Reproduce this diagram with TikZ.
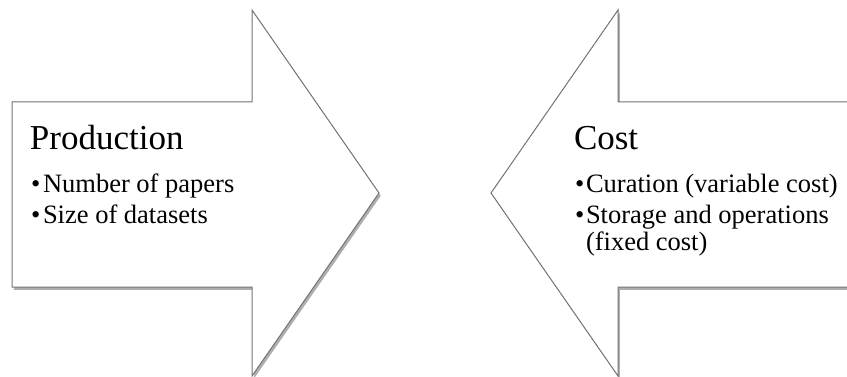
\documentclass[tikz,border=0pt]{standalone}
\usepackage{fontspec}
\setmainfont{Liberation Serif}
\usetikzlibrary{shadows}

\begin{document}
\begin{tikzpicture}[x=1pt, y=1pt,
  every node/.style={inner sep=0pt, outer sep=0pt},
  bigarrow/.style={draw=black!55, line width=1pt, fill=white, line join=miter,
    drop shadow={shadow xshift=1.8pt, shadow yshift=-2.8pt, opacity=0.45, fill=black!70}},
  heading/.style={anchor=base west, font=\fontsize{35}{40}\selectfont},
  itemtext/.style={anchor=base west, font=\fontsize{26.5}{30}\selectfont},
  itemdot/.style={anchor=base west, font=\fontsize{26.5}{30}\selectfont}]
  \useasboundingbox (0,0) rectangle (847,-377);
  \clip (0,0) rectangle (847,-377);
  % production arrow, pointing right
  \path[bigarrow] (12,-102) -- (252,-102) -- (252,-10) -- (379,-193)
    -- (252,-376) -- (252,-287) -- (12,-287) -- cycle;
  % cost arrow, pointing left (cut off at the right edge)
  \path[bigarrow] (870,-102) -- (618,-102) -- (618,-10) -- (491,-193)
    -- (618,-376) -- (618,-287) -- (870,-287) -- cycle;
  % production texts
  \node[heading] (prod) at (30,-150) {Production};
  \node[itemdot] (pb1) at (31,-193) {•};
  \node[itemtext] (p1) at (43,-193) {Number of papers};
  \node[itemdot] (pb2) at (31,-224) {•};
  \node[itemtext] (p2) at (43,-224) {Size of datasets};
  % cost texts
  \node[heading] (cost) at (574,-150) {Cost};
  \node[itemdot] (cb1) at (575,-193) {•};
  \node[itemtext] (c1) at (586,-193) {Curation (variable cost)};
  \node[itemdot] (cb2) at (575,-224) {•};
  \node[itemtext] (c2) at (586,-224) {Storage and operations};
  \node[itemtext] (c3) at (586,-251) {(fixed cost)};
\end{tikzpicture}
\end{document}
